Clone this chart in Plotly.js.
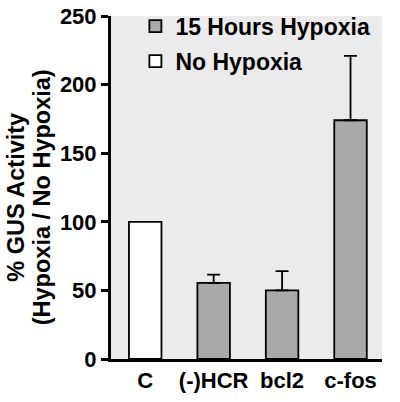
<!DOCTYPE html>
<html>
<head>
<meta charset="utf-8">
<script src="https://cdn.plot.ly/plotly-3.0.1.min.js"></script>
<style>
  html, body { margin: 0; padding: 0; background: #fff; }
  #plotly-div { width: 400px; height: 402px; }
</style>
</head>
<body>
<div id="plotly-div"></div>
<script>
// values
var categories = ['C', '(-)HCR', 'bcl2', 'c-fos'];

var hypoxiaNames = ['(-)HCR', 'bcl2', 'c-fos'];
var hypoxiaValues = [55.5, 50, 174];
var hypoxiaErrors = [6, 14, 47];

var noHypoxiaNames = ['C'];
var noHypoxiaValues = [100];

var yTicks = [0, 50, 100, 150, 200, 250];

var titleLines = ['% GUS Activity', '(Hypoxia / No Hypoxia)'];

var fam = 'Liberation Sans, Arial, sans-serif';
var boldFont = {family: fam, size: 22, color: '#000', weight: 'bold'};

var dataPlot = [
  {
    name: '15 Hours Hypoxia',
    legendgroup: 'a',
    type: 'bar',
    x: hypoxiaNames,
    y: hypoxiaValues,
    width: 0.475,
    marker: {color: '#a9a9a9', line: {color: '#000', width: 1.8}},
    error_y: {
      type: 'data',
      symmetric: false,
      array: hypoxiaErrors,
      arrayminus: [0, 0, 0],
      color: '#000',
      thickness: 1.8,
      width: 6.5
    }
  },
  {
    name: 'No Hypoxia',
    legendgroup: 'b',
    type: 'bar',
    x: noHypoxiaNames,
    y: noHypoxiaValues,
    width: 0.475,
    marker: {color: '#ffffff', line: {color: '#000', width: 1.8}}
  }
];

// the two title lines sit closer together than a <br> allows
var annots = [
  {text: titleLines[0], x: -0.352, y: 0.472},
  {text: titleLines[1], x: -0.254, y: 0.472}
].map(function (a) {
  return {
    text: a.text, x: a.x, y: a.y, xref: 'paper', yref: 'paper',
    xanchor: 'center', yanchor: 'middle', textangle: -90, showarrow: false,
    font: {family: fam, size: 23.5, color: '#000', weight: 'bold'}
  };
});

var layout = {
  width: 400,
  height: 402,
  margin: {l: 111, r: 18, t: 16, b: 43, autoexpand: false},
  paper_bgcolor: '#ffffff',
  plot_bgcolor: '#ebebeb',
  barmode: 'overlay',
  font: boldFont,
  showlegend: true,
  legend: {
    x: 0.09,
    y: 1.033,
    xanchor: 'left',
    yanchor: 'top',
    bgcolor: 'rgba(0,0,0,0)',
    font: {family: fam, size: 23, color: '#000', weight: 'bold'},
    traceorder: 'grouped',
    tracegroupgap: 2
  },
  annotations: annots,
  xaxis: {
    type: 'category',
    categoryorder: 'array',
    categoryarray: categories,
    range: [-0.5, 3.46],
    showline: true,
    linewidth: 3,
    linecolor: '#000',
    ticks: '',
    showgrid: false,
    zeroline: false,
    tickfont: boldFont
  },
  yaxis: {
    range: [0, 250],
    tickvals: yTicks,
    ticks: 'outside',
    ticklen: 7,
    tickwidth: 3,
    tickcolor: '#000',
    showline: true,
    linewidth: 3,
    linecolor: '#000',
    showgrid: false,
    zeroline: false,
    tickfont: boldFont
  }
};

Plotly.newPlot('plotly-div', dataPlot, layout, {staticPlot: true});
</script>
</body>
</html>
